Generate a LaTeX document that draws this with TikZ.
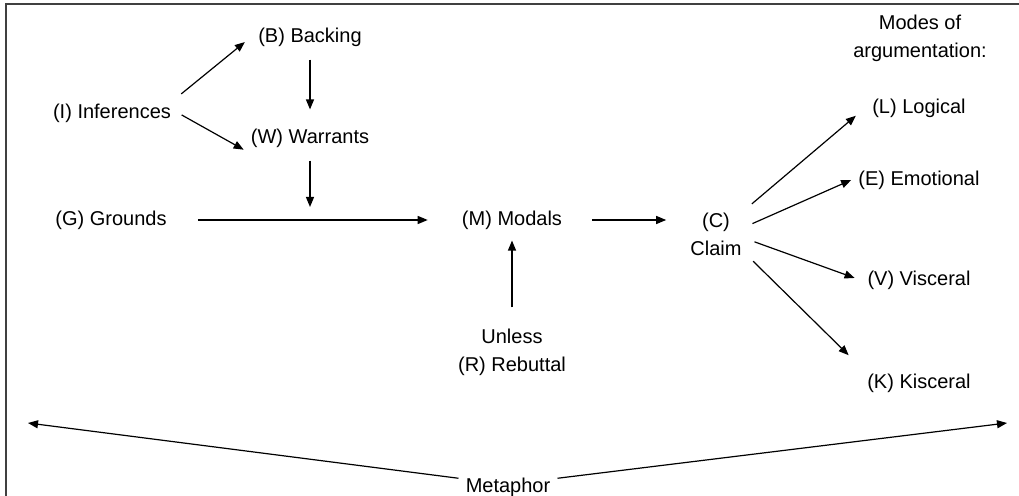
\documentclass[tikz,border=0pt]{standalone}
\usepackage{fontspec}
\setmainfont{Liberation Sans}
\usepackage{tikz}
\usetikzlibrary{arrows.meta}

\begin{document}
\begin{tikzpicture}[x=0.5pt, y=-0.5pt, line width=0.6pt,
    every node/.style={font=\fontsize{10}{14}\selectfont, align=center},
    arr/.style={-{Triangle[length=5pt,width=4pt]}}]
      \useasboundingbox (0, 0) rectangle (1019, 496);
      \draw[line width=1pt, black!75] (6, 496) -- (6, 4) -- (1019, 4);
      % left part
      \node (inf) at (112, 113) {(I) Inferences};
      \node (bak) at (310, 37) {(B) Backing};
      \node (war) at (310, 138) {(W) Warrants};
      \node (grd) at (111, 220) {(G) Grounds};
      \node (mod) at (512, 220) {(M) Modals};
      \node (reb) at (512, 352) {Unless\\(R) Rebuttal};
      \node (clm) at (716, 234) {(C)\\Claim};
      \coordinate (gm) at (310, 220);
      \draw[arr, shorten <=2pt, shorten >=4pt] (inf.north east) -- (bak.west);
      \draw[arr, shorten <=2pt] (inf.east) -- (war.190);
      \draw[arr, shorten <=3pt, shorten >=6pt] (bak.south) -- (war.north);
      \draw[arr, shorten <=3pt, shorten >=6.5pt] (war.south) -- (gm);
      \draw[arr, shorten <=12pt, shorten >=13.5pt] (grd.east) -- (mod.west);
      \draw[arr, shorten <=11.5pt, shorten >=8.5pt] (mod.east) -- (mod.east -| clm.west);
      \draw[arr, shorten <=7pt, shorten >=2pt] (reb.north) -- (mod.south);
      % modes of argumentation
      \node (hdr) at (920, 38) {Modes of\\argumentation:};
      \node (log) at (919, 108) {(L) Logical};
      \node (emo) at (919, 180) {(E) Emotional};
      \node (vis) at (919, 280) {(V) Visceral};
      \node (kis) at (919, 383) {(K) Kisceral};
      \draw[arr, shorten <=2pt, shorten >=6pt] (clm.40) -- (log.west);
      \draw[arr, shorten <=2pt] (clm.15) -- (emo.west);
      \draw[arr, shorten <=3pt, shorten >=3pt] (clm.-10) -- (vis.west);
      \draw[arr, shorten <=3pt, shorten >=8pt] (clm.-35) -- (kis.north west);
      % metaphor
      \node (met) at (508, 487) {Metaphor};
      \coordinate (lft) at (28, 423);
      \coordinate (rgt) at (1007, 423);
      \draw[arr] (met.170) -- (lft);
      \draw[arr] (met.10) -- (rgt);
    \end{tikzpicture}
\end{document}
